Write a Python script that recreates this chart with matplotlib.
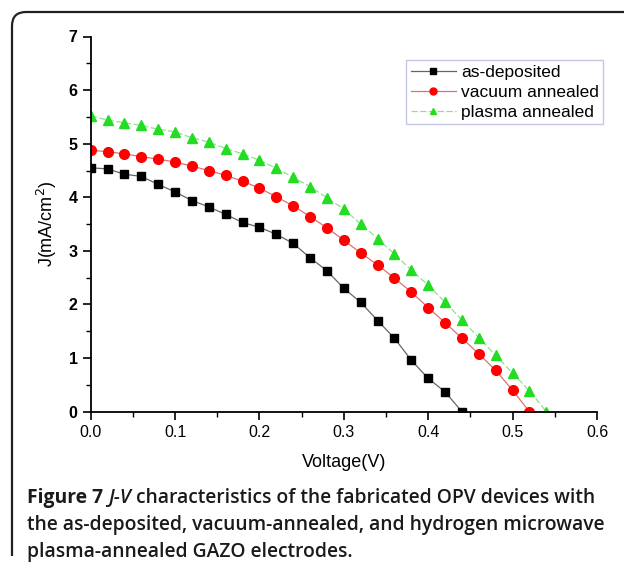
import matplotlib.pyplot as plt
from matplotlib.path import Path
from matplotlib.patches import PathPatch
from matplotlib.ticker import MultipleLocator

# Data
v_dep = [0.00, 0.02, 0.04, 0.06, 0.08, 0.10, 0.12, 0.14, 0.16, 0.18, 0.20, 0.22,
         0.24, 0.26, 0.28, 0.30, 0.32, 0.34, 0.36, 0.38, 0.40, 0.42, 0.44]
j_dep = [4.55, 4.53, 4.43, 4.39, 4.24, 4.10, 3.94, 3.82, 3.68, 3.53, 3.44, 3.31,
         3.14, 2.87, 2.63, 2.30, 2.04, 1.70, 1.37, 0.96, 0.62, 0.37, 0.00]

v_vac = [0.00, 0.02, 0.04, 0.06, 0.08, 0.10, 0.12, 0.14, 0.16, 0.18, 0.20, 0.22,
         0.24, 0.26, 0.28, 0.30, 0.32, 0.34, 0.36, 0.38, 0.40, 0.42, 0.44, 0.46,
         0.48, 0.50, 0.52]
j_vac = [4.88, 4.85, 4.81, 4.76, 4.71, 4.66, 4.58, 4.50, 4.41, 4.30, 4.17, 4.01,
         3.84, 3.64, 3.43, 3.20, 2.96, 2.74, 2.49, 2.23, 1.94, 1.66, 1.37, 1.08,
         0.77, 0.40, 0.00]

v_pla = [0.00, 0.02, 0.04, 0.06, 0.08, 0.10, 0.12, 0.14, 0.16, 0.18, 0.20, 0.22,
         0.24, 0.26, 0.28, 0.30, 0.32, 0.34, 0.36, 0.38, 0.40, 0.42, 0.44, 0.46,
         0.48, 0.50, 0.52, 0.54]
j_pla = [5.52, 5.44, 5.39, 5.34, 5.27, 5.22, 5.11, 5.03, 4.91, 4.81, 4.69, 4.54,
         4.37, 4.20, 3.99, 3.78, 3.50, 3.23, 2.94, 2.64, 2.36, 2.04, 1.71, 1.38,
         1.05, 0.72, 0.39, 0.00]

labels = ['as-deposited', 'vacuum annealed', 'plasma annealed']

plt.rcParams['font.family'] = ['Liberation Sans', 'DejaVu Sans']

W, H = 624, 566
fig = plt.figure(figsize=(W / 100, H / 100), dpi=100)
ax = fig.add_axes([90.7 / W, 1 - 411.7 / H, (597 - 90.7) / W, (411.7 - 36.5) / H])

ax.plot(v_dep, j_dep, color='#666666', lw=0.9, marker='s', ms=6,
        mfc='black', mec='black', label=labels[0])
ax.plot(v_vac, j_vac, color='#e07070', lw=0.9, marker='o', ms=7,
        mfc='red', mec='red', label=labels[1])
ax.plot(v_pla, j_pla, color='#90e090', lw=0.9, ls=(0, (5, 2)), marker='^', ms=7,
        mfc='#22dd22', mec='#22dd22', label=labels[2])

ax.set_xlim(0, 0.6)
ax.set_ylim(0, 7)
ax.xaxis.set_major_locator(MultipleLocator(0.1))
ax.xaxis.set_minor_locator(MultipleLocator(0.05))
ax.yaxis.set_major_locator(MultipleLocator(1))
ax.yaxis.set_minor_locator(MultipleLocator(0.5))
ax.xaxis.set_major_formatter(plt.FormatStrFormatter('%.1f'))

for s in ['top', 'right']:
    ax.spines[s].set_visible(False)
for s in ['left', 'bottom']:
    ax.spines[s].set_linewidth(1.3)
ax.tick_params(which='major', direction='out', length=6, width=1.2, labelsize=11.5)
ax.tick_params(which='minor', direction='out', length=3.5, width=1.0)
for t in ax.get_yticklabels():
    t.set_fontweight('bold')

ax.set_xlabel('Voltage(V)', fontsize=13, labelpad=10)
ax.set_ylabel('J(mA/cm$^2$)', fontsize=13, labelpad=7)

leg = ax.legend(loc='upper right', bbox_to_anchor=(1.012, 0.937), fontsize=12.5,
                frameon=True, fancybox=False, handlelength=2.6, handletextpad=0.3,
                borderpad=0.25, labelspacing=0.28, borderaxespad=0)
leg.get_frame().set_edgecolor('#b8b8e0')
leg.get_frame().set_linewidth(1.0)
for h in leg.legend_handles:
    h.set_markersize(5)

# frame bracket (top + left with rounded corner)
verts = [(12, 556), (12, 26), (12, 12), (26, 12), (W + 5, 12)]
codes = [Path.MOVETO, Path.LINETO, Path.CURVE3, Path.CURVE3, Path.LINETO]
verts = [(x / W, 1 - y / H) for x, y in verts]
fig.patches.append(PathPatch(Path(verts, codes), transform=fig.transFigure,
                             fill=False, lw=1.6, ec='#222222'))

# caption with mixed styles
cap_font = ['Open Sans', 'DejaVu Sans']
cap_size = 13.9
cap_color = '#1a1a1a'
fig.canvas.draw()
r = fig.canvas.get_renderer()


def put(x, y, s, **kw):
    t = fig.text(x / W, 1 - y / H, s, fontsize=cap_size, family=cap_font,
                 va='baseline', ha='left', color=cap_color, **kw)
    bb = t.get_window_extent(renderer=r)
    return x + bb.width


x = put(27, 503, 'Figure 7 ', fontweight='bold')
x = put(x, 503, 'J-V', fontweight='semibold', style='italic')
put(x, 503, ' characteristics of the fabricated OPV devices with', fontweight='semibold')
put(27, 530, 'the as-deposited, vacuum-annealed, and hydrogen microwave', fontweight='semibold')
put(27, 557, 'plasma-annealed GAZO electrodes.', fontweight='semibold')

fig.savefig('out.png', dpi=100)
